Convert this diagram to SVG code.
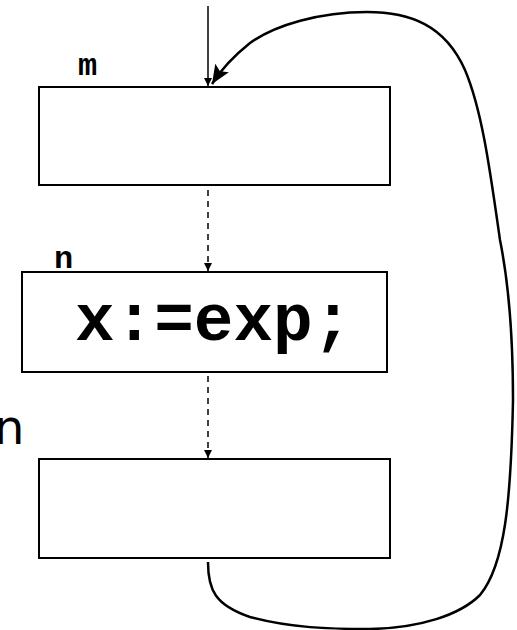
<svg xmlns="http://www.w3.org/2000/svg" width="517" height="630" viewBox="0 0 517 630">
<style>
.box{fill:#fff;stroke:#000;stroke-width:2}
.lbl{font-family:"Liberation Mono",monospace;font-weight:bold;fill:#000}
.flow{stroke:#000;stroke-width:1.5;fill:none}
.dash{stroke-dasharray:6,5}
</style>
<defs>
<marker id="sm" markerUnits="userSpaceOnUse" markerWidth="10" markerHeight="10" refX="8" refY="4" orient="auto"><path d="M0,0 L8,4 L0,8 z" fill="#000"/></marker>
<marker id="big" markerUnits="userSpaceOnUse" markerWidth="22" markerHeight="18" refX="19" refY="8" orient="auto"><path d="M0,0 L19,8 L0,16 L4,8 z" fill="#000"/></marker>
</defs>
<rect width="517" height="630" fill="#fff"/>
<text x="-6" y="444" font-family="DejaVu Sans,sans-serif" font-size="48" fill="#000">n</text>
<g id="connectors">
<line class="flow" x1="208" y1="6" x2="208" y2="86" marker-end="url(#sm)"/>
<line class="flow dash" x1="208" y1="190" x2="208" y2="271" marker-end="url(#sm)"/>
<line class="flow dash" x1="208" y1="376" x2="208" y2="458" marker-end="url(#sm)"/>
<path d="M208,562 C208,590 215,605 250,617 C290,628 330,629 370,629 C420,628 460,615 480,595 C505,565 511,500 513,400 C513,330 508,280 500,240 C490,170 482,110 465,70 C445,25 410,12 367,12 C320,12 275,25 250,43 C235,55 222,68 212,84" fill="none" stroke="#000" stroke-width="2.5" marker-end="url(#big)"/>
</g>
<g id="node-m">
<rect class="box" x="39" y="87" width="351" height="98"/>
<text class="lbl" x="78" y="75" font-size="32">m</text>
</g>
<g id="node-n">
<rect class="box" x="22" y="272" width="365" height="100"/>
<text class="lbl" x="54" y="268" font-size="32">n</text>
<text class="lbl" x="75" y="340" font-size="66">x:=exp;</text>
</g>
<g id="node-3">
<rect class="box" x="39" y="459" width="351" height="99"/>
</g>
</svg>
